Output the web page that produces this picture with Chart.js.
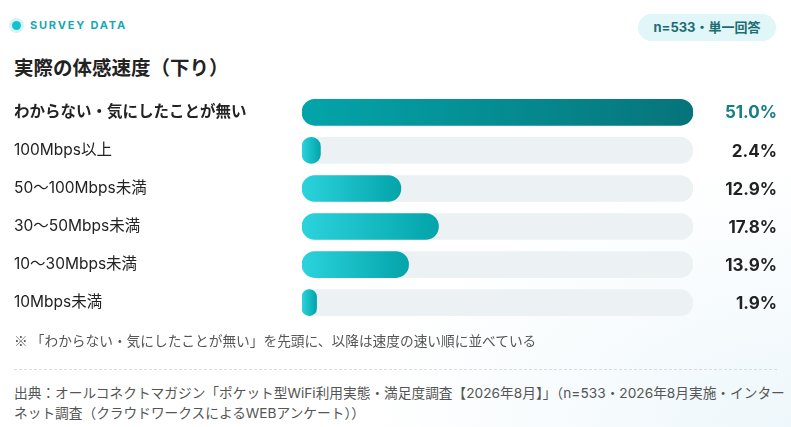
<!DOCTYPE html>
<html lang="ja">
<head>
<meta charset="utf-8">
<script src="https://cdn.jsdelivr.net/npm/chart.js@4.4.1/dist/chart.umd.min.js"></script>
<style>
  html, body { margin: 0; padding: 0; }
  body {
    width: 791px; height: 427px; overflow: hidden; position: relative;
    font-family: Inter, "Noto Sans CJK JP", sans-serif;
    background: radial-gradient(ellipse 420px 260px at 100% 100%, #eef7fb 0%, #ffffff 100%);
  }
  .tag { position: absolute; left: 12px; top: 18px; display: flex; align-items: center; }
  .dot { width: 9px; height: 9px; border-radius: 50%; background: #12c3cf; box-shadow: 0 0 0 3px #d3f3f6; }
  .tag span { margin-left: 9px; font-size: 11px; font-weight: bold; letter-spacing: 1.8px; color: #16a9b4; }
  .pill { position: absolute; left: 638px; top: 14px; width: 138px; height: 27px; border-radius: 14px;
    background: #e0f6f8; color: #1b6d72; font-size: 13px; font-weight: bold; text-align: center; line-height: 27px; }
  h1 { position: absolute; left: 14px; top: 52px; margin: 0; font-size: 19.5px; font-weight: bold; color: #222; }
  #wrap { position: absolute; left: 0; top: 84px; width: 791px; height: 247px; }
  .note { position: absolute; left: 14px; top: 330px; font-size: 13.7px; color: #555; }
  .cjk { font-family: "Noto Sans CJK JP", sans-serif; }
  .rule { position: absolute; left: 14px; top: 369px; width: 763px; border-top: 1px dashed #dcdcdc; }
  .src { position: absolute; left: 14px; top: 383px; font-size: 13.7px; color: #555; line-height: 20px; white-space: nowrap; }
</style>
</head>
<body>
<div class="tag"><div class="dot"></div><span>SURVEY DATA</span></div>
<div class="pill">n=533・単一回答</div>
<h1>実際の体感速度（下り）</h1>
<div id="wrap"><canvas id="speedChart"></canvas></div>
<div class="note"><span class="cjk">※ 「</span>わからない・気にしたことが無い<span class="cjk">」</span>を先頭に、以降は速度の速い順に並べている</div>
<div class="rule"></div>
<div class="src">出典：オールコネクトマガジン「ポケット型WiFi利用実態・満足度調査【2026年8月】」（n=533・2026年8月実施・インター<br>ネット調査（クラウドワークスによるWEBアンケート））</div>
<script>
const categories = ['わからない・気にしたことが無い', '100Mbps以上', '50～100Mbps未満', '30～50Mbps未満', '10～30Mbps未満', '10Mbps未満'];
const percents = [51.0, 2.4, 12.9, 17.8, 13.9, 1.9];
const scaleMax = 51;
const trackValues = categories.map(() => scaleMax);

const valueLabels = {
    id: 'valueLabels',
    afterDatasetsDraw(chart) {
        const ctx = chart.ctx;
        const meta = chart.getDatasetMeta(1);
        ctx.save();
        ctx.textAlign = 'right';
        ctx.textBaseline = 'middle';
        ctx.font = 'bold 17px Inter, "Noto Sans CJK JP", sans-serif';
        meta.data.forEach(function (bar, i) {
            ctx.fillStyle = i === 0 ? '#137e85' : '#222';
            ctx.fillText(percents[i].toFixed(1) + '%', 777, bar.y + 1);
        });
        ctx.restore();
    }
};

function barFill(context) {
    const chart = context.chart;
    const x = chart.scales.x;
    if (!chart.chartArea || !x) return '#1cc0c8';
    const x0 = x.getPixelForValue(0);
    const x1 = Math.max(x.getPixelForValue(percents[context.dataIndex]), x0 + 1);
    const g = chart.ctx.createLinearGradient(x0, 0, x1, 0);
    if (context.dataIndex === 0) {
        g.addColorStop(0, '#03a5aa');
        g.addColorStop(1, '#06747a');
    } else {
        g.addColorStop(0, '#2bd3dc');
        g.addColorStop(1, '#03a4aa');
    }
    return g;
}

new Chart(document.getElementById('speedChart').getContext('2d'), {
    type: 'bar',
    data: {
        labels: categories,
        datasets: [{
            data: trackValues,
            backgroundColor: '#ecf1f4',
            borderRadius: 13,
            borderSkipped: false,
            barThickness: 26,
            order: 2
        }, {
            data: percents,
            backgroundColor: barFill,
            borderRadius: 13,
            borderSkipped: false,
            barThickness: 26,
            order: 1
        }]
    },
    options: {
        indexAxis: 'y',
        responsive: true,
        maintainAspectRatio: false,
        animation: false,
        layout: { padding: { left: 14, right: 98, top: 0, bottom: 0 } },
        scales: {
            x: {
                display: false,
                min: 0,
                max: scaleMax,
                stacked: false
            },
            y: {
                afterFit: function (scale) { scale.width = 288; },
                grid: { display: false },
                border: { display: false },
                ticks: {
                    crossAlign: 'far',
                    padding: 0,
                    color: '#222',
                    font: function (c) {
                        return {
                            family: 'Inter, "Noto Sans CJK JP", sans-serif',
                            size: 15.5,
                            weight: c.index === 0 ? 'bold' : 'normal'
                        };
                    }
                }
            }
        },
        datasets: { bar: { grouped: false } },
        plugins: {
            legend: { display: false },
            tooltip: { enabled: false }
        }
    },
    plugins: [valueLabels]
});
</script>
</body>
</html>
